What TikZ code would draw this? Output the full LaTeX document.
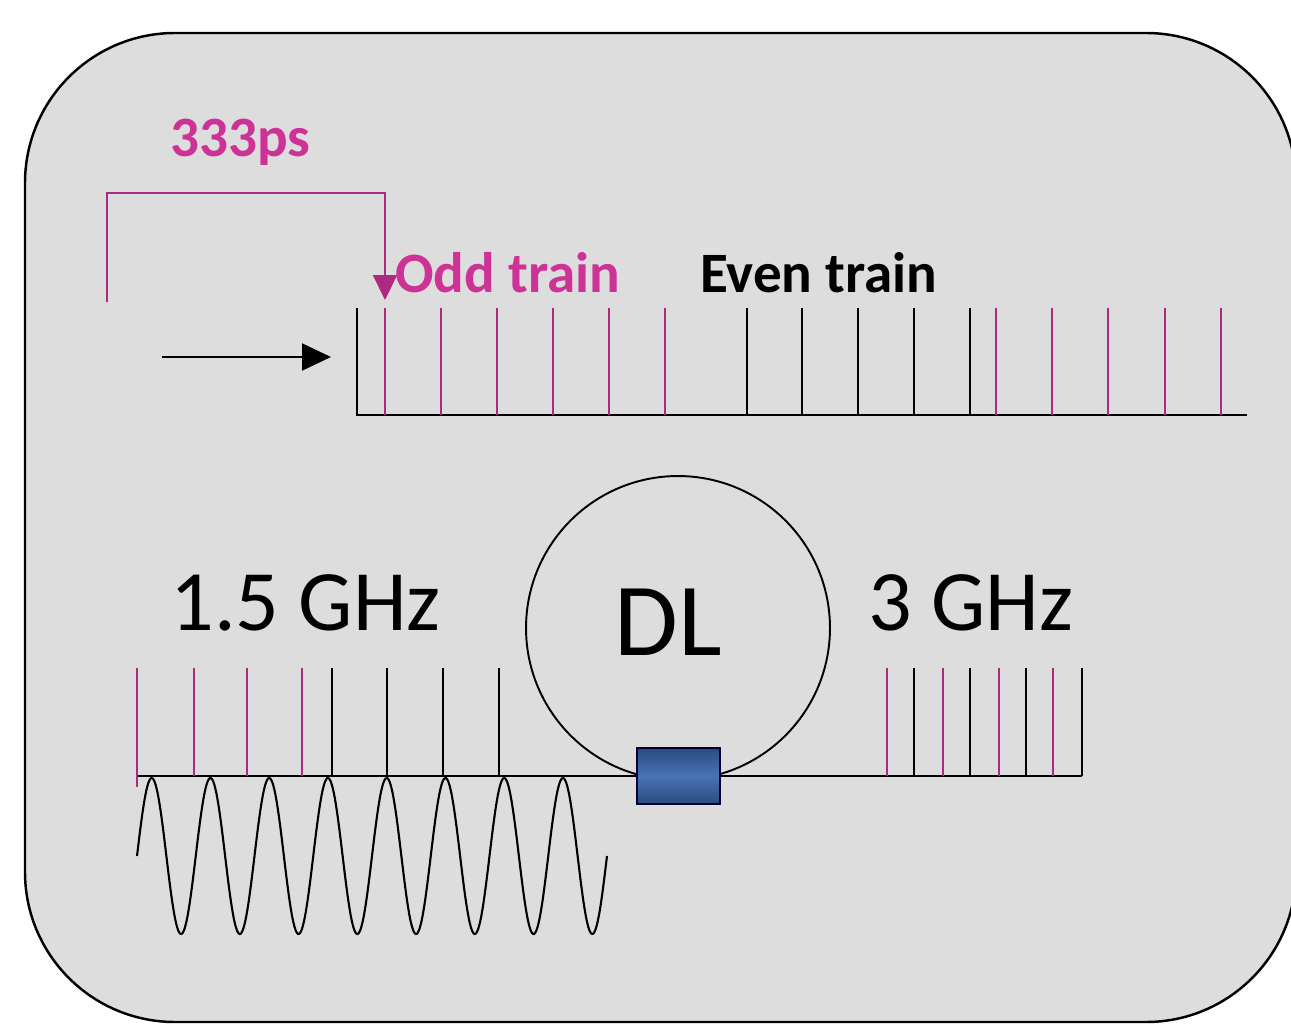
\documentclass[tikz,border=0pt]{standalone}
\usepackage{fontspec}
\setmainfont{Carlito}
\usepackage{xcolor}
\definecolor{trainpink}{RGB}{205, 50, 150}
\definecolor{panelgray}{RGB}{221, 221, 221}
\definecolor{couplerblue}{RGB}{62, 108, 178}
\usepackage{tikz}
\usetikzlibrary{
  arrows.meta,
  positioning
}

\begin{document}
\begin{tikzpicture}[
  x=0.02cm, y=-0.02cm,
  panel/.style={draw=black, line width=1.4pt, fill=panelgray, rounded corners=3cm},
  axis/.style={draw=black, line width=1.5pt},
  oddtick/.style={draw=trainpink!85!black, line width=1.3pt},
  eventick/.style={draw=black, line width=1.3pt},
  wave/.style={draw=black, line width=1.2pt},
  delay/.style={draw=trainpink!85!black, line width=1.2pt,
    -{Triangle[length=0.5cm, width=0.48cm]}},
  feed/.style={draw=black, line width=1.2pt,
    -{Triangle[length=0.58cm, width=0.54cm]}},
  smalltxt/.style={font=\fontsize{32.5}{38}\selectfont\bfseries, anchor=base west, inner sep=0pt},
  bigtxt/.style={font=\fontsize{49}{57}\selectfont, anchor=base west, inner sep=0pt},
  loop/.style={circle, draw=black, line width=1.1pt, minimum size=6.08cm, inner sep=0pt},
  coupler/.style={rectangle, draw=black!80!blue, line width=1.4pt,
    minimum width=1.66cm, minimum height=1.12cm, inner sep=0pt,
    top color=couplerblue!70!black, bottom color=couplerblue!70!black,
    middle color=couplerblue!95!white}
]
\useasboundingbox (0,0) rectangle (1291,1027);
\fill[white] (0,0) rectangle (1291,1027);
\path[panel] (25,33) rectangle (1296,1022);

% delay bracket
\node[smalltxt, text=trainpink] (delaylbl) at (170,157) {333ps};
\coordinate (delaystart) at (107,302);
\coordinate (delayend) at (385,300);
\draw[delay] (delaystart) -- ++(0,-109) -| (delayend);

% input pulse train
\coordinate (feedstart) at (162,357);
\coordinate (feedend) at (331,357);
\draw[feed] (feedstart) -- (feedend);

\coordinate (topaxis) at (357,308);
\coordinate (topaxisend) at (1247,415);
\draw[axis] (topaxis) |- (topaxisend);
\foreach \x in {385,441,497,553,609,665,996,1052,1108,1165,1221}
  \draw[oddtick] (\x,415) -- (\x,308);
\foreach \x in {747,802,858,914,970}
  \draw[eventick] (\x,415) -- (\x,308);

\node[smalltxt, text=trainpink] (oddlbl) at (395,292) {Odd train};
\node[smalltxt] (evenlbl) at (700,292) {Even train};

% delay loop
\node[loop] (dl) at (678,628) {};
\node[font=\fontsize{59}{66}\selectfont, anchor=base, inner sep=0pt] (dllbl) at (668,655) {DL};
\node[coupler] (cpl) at (678.5,776) {};

\coordinate (inaxis) at (137,776);
\coordinate (outaxis) at (1082,776);
\draw[axis] (inaxis) -- (cpl.west);
\draw[axis] (cpl.east) -- (outaxis);

% 1.5 GHz side
\draw[oddtick] (137,787) -- (137,668);
\foreach \x in {194,247,302}
  \draw[oddtick] (\x,776) -- (\x,668);
\foreach \x in {332,387,443,499}
  \draw[eventick] (\x,776) -- (\x,668);
\draw[wave] plot[domain=137:607, samples=500, smooth]
  (\x, {856-78*sin((\x-137)/58.75*360)});
\node[bigtxt] (lowlbl) at (170,630) {1.5 GHz};

% 3 GHz side
\foreach \x in {887,943,999,1053}
  \draw[oddtick] (\x,776) -- (\x,668);
\foreach \x in {914,970,1026,1082}
  \draw[eventick] (\x,776) -- (\x,668);
\node[bigtxt] (highlbl) at (868,630) {3 GHz};
\end{tikzpicture}
\end{document}
